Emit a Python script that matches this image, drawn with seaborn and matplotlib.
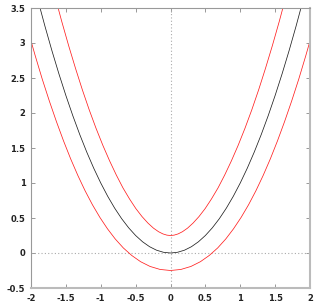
import matplotlib
matplotlib.use("Agg")
import matplotlib.pyplot as plt
import seaborn as sns
import pandas as pd

# Black curve (parabola)
black_x = [-2.0, -1.9, -1.8, -1.7, -1.6, -1.5, -1.4, -1.3, -1.2, -1.1, -1.0, -0.9, -0.8, -0.7, -0.6,
           -0.5, -0.4, -0.3, -0.2, -0.1, 0.0, 0.1, 0.2, 0.3, 0.4, 0.5, 0.6, 0.7, 0.8, 0.9, 1.0,
           1.1, 1.2, 1.3, 1.4, 1.5, 1.6, 1.7, 1.8, 1.9, 2.0]
black_y = [4.0, 3.61, 3.24, 2.89, 2.56, 2.25, 1.96, 1.69, 1.44, 1.21, 1.0, 0.81, 0.64, 0.49, 0.36,
           0.25, 0.16, 0.09, 0.04, 0.01, 0.0, 0.01, 0.04, 0.09, 0.16, 0.25, 0.36, 0.49, 0.64, 0.81, 1.0,
           1.21, 1.44, 1.69, 1.96, 2.25, 2.56, 2.89, 3.24, 3.61, 4.0]

# Upper red curve
upper_x = [-1.658, -1.559, -1.460, -1.361, -1.263, -1.165, -1.067, -0.969, -0.872, -0.776, -0.682,
           -0.588, -0.497, -0.408, -0.323, -0.244, -0.171, -0.107, -0.051, 0.0,
           0.051, 0.107, 0.171, 0.244, 0.323, 0.408, 0.497, 0.588, 0.682, 0.776,
           0.872, 0.969, 1.067, 1.165, 1.263, 1.361, 1.460, 1.559, 1.658]
upper_y = [3.674, 3.307, 2.961, 2.635, 2.329, 2.044, 1.780, 1.536, 1.314, 1.112, 0.931,
           0.773, 0.635, 0.520, 0.427, 0.355, 0.304, 0.272, 0.255, 0.25,
           0.255, 0.272, 0.304, 0.355, 0.427, 0.520, 0.635, 0.773, 0.931, 1.112,
           1.314, 1.536, 1.780, 2.044, 2.329, 2.635, 2.961, 3.307, 3.674]

# Lower red curve
lower_x = [-2.041, -1.940, -1.839, -1.737, -1.635, -1.533, -1.431, -1.328, -1.224, -1.119, -1.012,
           -0.903, -0.792, -0.677, -0.556, -0.429, -0.293, -0.149, 0.0,
           0.149, 0.293, 0.429, 0.556, 0.677, 0.792, 0.903, 1.012, 1.119, 1.224,
           1.328, 1.431, 1.533, 1.635, 1.737, 1.839, 1.940, 2.041]
lower_y = [3.173, 2.820, 2.485, 2.171, 1.876, 1.600, 1.344, 1.107, 0.888, 0.689, 0.508,
           0.345, 0.200, 0.073, -0.035, -0.124, -0.192, -0.235, -0.25,
           -0.235, -0.192, -0.124, -0.035, 0.073, 0.200, 0.345, 0.508, 0.689, 0.888,
           1.107, 1.344, 1.600, 1.876, 2.171, 2.485, 2.820, 3.173]

x_ticks = [-2, -1.5, -1, -0.5, 0, 0.5, 1, 1.5, 2]
x_labels = ["-2", "-1.5", "-1", "-0.5", "0", "0.5", "1", "1.5", "2"]
y_ticks = [-0.5, 0, 0.5, 1, 1.5, 2, 2.5, 3, 3.5]
y_labels = ["-0.5", "0", "0.5", "1", "1.5", "2", "2.5", "3", "3.5"]

sns.set_style("white")
plt.rcParams['font.family'] = ['DejaVu Sans']

fig = plt.figure(figsize=(3.3, 3.03), dpi=100)
ax = fig.add_axes([31/330, 15/303, 279/330, 280/303])

df_black = pd.DataFrame({"x": black_x, "y": black_y})
df_up = pd.DataFrame({"x": upper_x, "y": upper_y})
df_lo = pd.DataFrame({"x": lower_x, "y": lower_y})

ax.axhline(0, color="#aaaaaa", lw=0.8, ls=(0, (1, 2)), zorder=1)
ax.axvline(0, color="#aaaaaa", lw=0.8, ls=(0, (1, 2)), zorder=1)

sns.lineplot(data=df_up, x="x", y="y", ax=ax, color="#ff2020", lw=0.55, sort=False, estimator=None)
sns.lineplot(data=df_black, x="x", y="y", ax=ax, color="#202020", lw=0.55, sort=False, estimator=None)
sns.lineplot(data=df_lo, x="x", y="y", ax=ax, color="#ff2020", lw=0.55, sort=False, estimator=None)

ax.set_xlim(-2, 2)
ax.set_ylim(-0.5, 3.5)
ax.set_xticks(x_ticks)
ax.set_xticklabels(x_labels)
ax.set_yticks(y_ticks)
ax.set_yticklabels(y_labels)
ax.set_xlabel("")
ax.set_ylabel("")

ax.tick_params(direction="in", length=3, width=0.6, color="#888888",
               top=True, right=True, bottom=True, left=True,
               labelsize=6, labelcolor="#222222", pad=4)
for lab in ax.get_xticklabels() + ax.get_yticklabels():
    lab.set_fontweight("bold")

for s in ["left", "top"]:
    ax.spines[s].set_color("#999999")
    ax.spines[s].set_linewidth(0.8)
for s in ["right", "bottom"]:
    ax.spines[s].set_color("#bbbbbb")
    ax.spines[s].set_linewidth(1.5)

fig.savefig("out.png", dpi=100)
